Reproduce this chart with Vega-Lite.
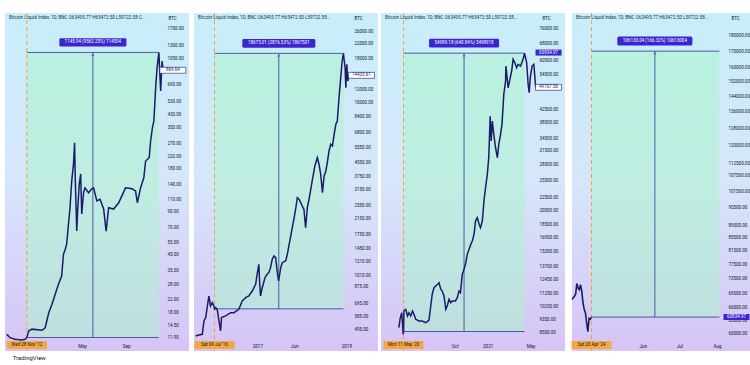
{
  "$schema": "https://vega.github.io/schema/vega-lite/v6.json",
  "background": "white",
  "padding": {"left": 3, "top": 12, "right": 0, "bottom": 2},
  "spacing": 3,
  "title": {"text": "TradingView", "orient": "bottom", "anchor": "start", "fontSize": 6, "fontWeight": "normal", "color": "#131722", "offset": 3, "dx": 9},
  "config": {"font": "Roboto", "view": {"stroke": null}},
  "hconcat": [
    {
      "width": 184, "height": 338,
      "view": {"stroke": null, "fill": {"gradient": "linear", "x1": 0, "y1": 0, "x2": 0, "y2": 1, "stops": [{"offset": 0, "color": "#c8eefb"}, {"offset": 0.5, "color": "#d6e6fb"}, {"offset": 1, "color": "#d6c4f6"}]}},
      "title": {"text": "Bitcoin Liquid Index, 1D, BNC  O63495.77 H65472.50 L59722.58 C...", "anchor": "start", "frame": "group", "orient": "top", "offset": -7, "dx": 4, "fontSize": 4.6, "fontWeight": "normal", "color": "#2a2e39"},
      "layer": [
        {
          "data": {"values": [{"start": "2012-11-28", "end": "2013-12-01", "mid": "2013-05-31", "low": 11.98, "high": 1157.9, "label": "1145.94 (9562.25%) 114594", "hlabel": "Wed 28 Nov '12"}]},
          "mark": {"type": "rect", "fill": "#a8f5c8", "opacity": 0.5},
          "encoding": {
            "x": {"field": "start", "type": "temporal", "scale": {"type": "utc", "domain": [{"year": 2012, "month": 9, "date": 28, "utc": true}, {"year": 2014, "month": 2, "date": 23, "utc": true}]},
              "axis": {"orient": "bottom", "title": null, "values": [{"year": 2013, "month": 5, "date": 1, "utc": true}, {"year": 2013, "month": 9, "date": 1, "utc": true}], "labelExpr": "utcFormat(datum.value, utcmonth(datum.value) == 0 ? '%Y' : '%b')", "labelPadding": -5, "labelBaseline": "middle", "ticks": false, "domain": false, "grid": false, "labelFontSize": 4.6, "labelColor": "#131722", "labelFlush": false, "labelOverlap": false}},
            "x2": {"field": "end"},
            "y": {"field": "low", "type": "quantitative", "scale": {"type": "log", "domain": [9.65, 2179], "nice": false},
              "axis": {"orient": "right", "title": "BTC", "titleAngle": 0, "titleAlign": "left", "titleBaseline": "middle", "titleX": -21, "titleY": 5.5, "titleFontSize": 4.5, "titleFontWeight": "normal", "titleColor": "#131722", "values": [1700, 1300, 1050, 690, 530, 430, 350, 270, 220, 180, 140, 110, 90, 70, 55, 45, 35, 28, 22, 18, 14.5, 11.9], "format": ".2f", "labelAlign": "left", "labelBaseline": "middle", "labelPadding": -22, "ticks": false, "domain": false, "grid": false, "labelFontSize": 4.5, "labelColor": "#131722", "labelOverlap": false, "labelBound": false, "labelFlush": false}},
            "y2": {"field": "high"}
          }
        },
        {
          "data": {"values": [{"start": "2012-11-28", "end": "2013-12-01", "mid": "2013-05-31", "low": 11.98, "high": 1157.9}]},
          "layer": [
            {"mark": {"type": "rule", "color": "#4a5aab", "strokeWidth": 1}, "encoding": {"x": {"field": "start", "type": "temporal"}, "x2": {"field": "end"}, "y": {"field": "high", "type": "quantitative"}}},
            {"mark": {"type": "rule", "color": "#4a5aab", "strokeWidth": 1}, "encoding": {"x": {"field": "start", "type": "temporal"}, "x2": {"field": "end"}, "y": {"field": "low", "type": "quantitative"}}},
            {"mark": {"type": "rule", "color": "#4a5aab", "strokeWidth": 1}, "encoding": {"x": {"field": "mid", "type": "temporal"}, "y": {"field": "low", "type": "quantitative"}, "y2": {"field": "high"}}},
            {"mark": {"type": "point", "shape": "triangle-up", "filled": true, "size": 8, "color": "#4a5aab", "opacity": 1, "yOffset": 2}, "encoding": {"x": {"field": "mid", "type": "temporal"}, "y": {"field": "high", "type": "quantitative"}}},
            {"mark": {"type": "rule", "color": "#f2a23a", "strokeWidth": 1, "strokeDash": [4, 3]}, "encoding": {"x": {"field": "start", "type": "temporal"}}}
          ]
        },
        {
          "data": {"values": [
            {"d": "2012-10-03", "p": 12.6}, {"d": "2012-10-12", "p": 11.95}, {"d": "2012-10-26", "p": 11.65}, {"d": "2012-11-14", "p": 11.5}, {"d": "2012-11-23", "p": 11.65}, {"d": "2012-11-28", "p": 12.0},
            {"d": "2012-12-03", "p": 13.3}, {"d": "2012-12-12", "p": 13.7}, {"d": "2013-01-09", "p": 13.45}, {"d": "2013-01-18", "p": 14.0}, {"d": "2013-01-28", "p": 17.8}, {"d": "2013-02-06", "p": 20.4},
            {"d": "2013-02-15", "p": 24.0}, {"d": "2013-02-24", "p": 28.1}, {"d": "2013-03-05", "p": 32.1}, {"d": "2013-03-10", "p": 45.5}, {"d": "2013-03-15", "p": 49.3}, {"d": "2013-03-19", "p": 53.7},
            {"d": "2013-03-24", "p": 74}, {"d": "2013-03-28", "p": 94}, {"d": "2013-04-02", "p": 147}, {"d": "2013-04-07", "p": 194}, {"d": "2013-04-10", "p": 272}, {"d": "2013-04-12", "p": 150},
            {"d": "2013-04-16", "p": 66}, {"d": "2013-04-19", "p": 95.6}, {"d": "2013-04-23", "p": 140}, {"d": "2013-04-27", "p": 165}, {"d": "2013-04-30", "p": 86.8}, {"d": "2013-05-05", "p": 122},
            {"d": "2013-05-09", "p": 132}, {"d": "2013-05-19", "p": 122}, {"d": "2013-05-28", "p": 130}, {"d": "2013-06-02", "p": 132}, {"d": "2013-06-11", "p": 107}, {"d": "2013-06-20", "p": 110},
            {"d": "2013-06-30", "p": 94}, {"d": "2013-07-07", "p": 66}, {"d": "2013-07-14", "p": 96}, {"d": "2013-07-28", "p": 94}, {"d": "2013-08-11", "p": 104}, {"d": "2013-08-30", "p": 132},
            {"d": "2013-09-17", "p": 130}, {"d": "2013-09-27", "p": 125.6}, {"d": "2013-10-02", "p": 104}, {"d": "2013-10-11", "p": 132}, {"d": "2013-10-20", "p": 155}, {"d": "2013-10-25", "p": 203},
            {"d": "2013-11-04", "p": 214}, {"d": "2013-11-08", "p": 280}, {"d": "2013-11-13", "p": 346}, {"d": "2013-11-17", "p": 386}, {"d": "2013-11-22", "p": 658}, {"d": "2013-11-26", "p": 907},
            {"d": "2013-12-01", "p": 1157.9}, {"d": "2013-12-06", "p": 624}, {"d": "2013-12-10", "p": 1009}, {"d": "2013-12-13", "p": 869.64}
          ]},
          "mark": {"type": "line", "color": "#1c1a6b", "strokeWidth": 1.5},
          "encoding": {"x": {"field": "d", "type": "temporal"}, "y": {"field": "p", "type": "quantitative"}}
        },
        {
          "data": {"values": [{"mid": "2013-05-31", "high": 1157.9, "label": "1145.94 (9562.25%) 114594"}]},
          "layer": [
            {"mark": {"type": "point", "shape": "M-0.96,-0.125H0.96Q1,-0.125 1,-0.085V0.085Q1,0.125 0.96,0.125H-0.96Q-1,0.125 -1,0.085V-0.085Q-1,-0.125 -0.96,-0.125Z", "size": 4489, "filled": true, "color": "#3b25d1", "opacity": 1, "yOffset": -10}, "encoding": {"x": {"field": "mid", "type": "temporal"}, "y": {"field": "high", "type": "quantitative"}}},
            {"mark": {"type": "text", "color": "white", "fontSize": 4.5, "baseline": "middle", "align": "center", "yOffset": -10}, "encoding": {"x": {"field": "mid", "type": "temporal"}, "y": {"field": "high", "type": "quantitative"}, "text": {"field": "label"}}}
          ]
        },
        {
          "data": {"values": [{"start": "2012-11-28", "hlabel": "Wed 28 Nov '12"}]},
          "layer": [
            {"mark": {"type": "point", "shape": "M-1,-0.2H1V0.2H-1Z", "size": 1600, "filled": true, "color": "#f5a742", "opacity": 1}, "encoding": {"x": {"field": "start", "type": "temporal"}, "y": {"datum": 10.63, "type": "quantitative"}}},
            {"mark": {"type": "text", "color": "#131722", "fontSize": 4.5, "baseline": "middle", "align": "center"}, "encoding": {"x": {"field": "start", "type": "temporal"}, "y": {"datum": 10.63, "type": "quantitative"}, "text": {"field": "hlabel"}}}
          ]
        },
        {
          "data": {"values": [{"p": 869.64, "t": "869.64"}]},
          "layer": [
            {"mark": {"type": "point", "shape": "M-1,-0.23H1V0.23H-1Z", "size": 676, "filled": true, "fill": "white", "stroke": "#1c1a6b", "strokeWidth": 0.6, "opacity": 1}, "encoding": {"x": {"datum": {"year": 2014, "month": 1, "date": 9, "utc": true}, "type": "temporal"}, "y": {"field": "p", "type": "quantitative"}}},
            {"mark": {"type": "text", "color": "#1c1a6b", "fontSize": 4.5, "baseline": "middle", "align": "center"}, "encoding": {"x": {"datum": {"year": 2014, "month": 1, "date": 9, "utc": true}, "type": "temporal"}, "y": {"field": "p", "type": "quantitative"}, "text": {"field": "t"}}}
          ]
        }
      ]
    },
    {
      "width": 184, "height": 338,
      "view": {"stroke": null, "fill": {"gradient": "linear", "x1": 0, "y1": 0, "x2": 0, "y2": 1, "stops": [{"offset": 0, "color": "#c8eefb"}, {"offset": 0.5, "color": "#d6e6fb"}, {"offset": 1, "color": "#d6c4f6"}]}},
      "title": {"text": "Bitcoin Liquid Index, 1D, BNC  O63495.77 H65472.50 L59722.58...", "anchor": "start", "frame": "group", "orient": "top", "offset": -7, "dx": 4, "fontSize": 4.6, "fontWeight": "normal", "color": "#2a2e39"},
      "layer": [
        {
          "data": {"values": [{"start": "2016-07-09", "end": "2017-12-20", "low": 649.2, "high": 19324}]},
          "mark": {"type": "rect", "fill": "#a8f5c8", "opacity": 0.5},
          "encoding": {
            "x": {"field": "start", "type": "temporal", "scale": {"type": "utc", "domain": [{"year": 2016, "month": 4, "date": 16, "utc": true}, {"year": 2018, "month": 5, "date": 11, "utc": true}]},
              "axis": {"orient": "bottom", "title": null, "values": [{"year": 2017, "month": 1, "date": 1, "utc": true}, {"year": 2017, "month": 6, "date": 1, "utc": true}, {"year": 2018, "month": 1, "date": 1, "utc": true}], "labelExpr": "utcFormat(datum.value, utcmonth(datum.value) == 0 ? '%Y' : '%b')", "labelPadding": -5, "labelBaseline": "middle", "ticks": false, "domain": false, "grid": false, "labelFontSize": 4.6, "labelColor": "#131722", "labelFlush": false, "labelOverlap": false}},
            "x2": {"field": "end"},
            "y": {"field": "low", "type": "quantitative", "scale": {"type": "log", "domain": [371, 33030], "nice": false},
              "axis": {"orient": "right", "title": "BTC", "titleAngle": 0, "titleAlign": "left", "titleBaseline": "middle", "titleX": -24, "titleY": 5.5, "titleFontSize": 4.5, "titleFontWeight": "normal", "titleColor": "#131722", "values": [26000, 22000, 18000, 12000, 10000, 8400, 6800, 5550, 4550, 3750, 3150, 2550, 2150, 1750, 1450, 1210, 1010, 875, 695, 585, 495], "format": ".2f", "labelAlign": "left", "labelBaseline": "middle", "labelPadding": -24, "ticks": false, "domain": false, "grid": false, "labelFontSize": 4.5, "labelColor": "#131722", "labelOverlap": false, "labelBound": false, "labelFlush": false}},
            "y2": {"field": "high"}
          }
        },
        {
          "data": {"values": [{"start": "2016-07-09", "end": "2017-12-20", "mid": "2017-03-30", "low": 649.2, "high": 19324}]},
          "layer": [
            {"mark": {"type": "rule", "color": "#4a5aab", "strokeWidth": 1}, "encoding": {"x": {"field": "start", "type": "temporal"}, "x2": {"field": "end"}, "y": {"field": "high", "type": "quantitative"}}},
            {"mark": {"type": "rule", "color": "#4a5aab", "strokeWidth": 1}, "encoding": {"x": {"field": "start", "type": "temporal"}, "x2": {"field": "end"}, "y": {"field": "low", "type": "quantitative"}}},
            {"mark": {"type": "rule", "color": "#4a5aab", "strokeWidth": 1}, "encoding": {"x": {"field": "mid", "type": "temporal"}, "y": {"field": "low", "type": "quantitative"}, "y2": {"field": "high"}}},
            {"mark": {"type": "point", "shape": "triangle-up", "filled": true, "size": 8, "color": "#4a5aab", "opacity": 1, "yOffset": 2}, "encoding": {"x": {"field": "mid", "type": "temporal"}, "y": {"field": "high", "type": "quantitative"}}},
            {"mark": {"type": "rule", "color": "#f2a23a", "strokeWidth": 1, "strokeDash": [4, 3]}, "encoding": {"x": {"field": "start", "type": "temporal"}}}
          ]
        },
        {
          "data": {"values": [
            {"d": "2016-04-23", "p": 453}, {"d": "2016-05-06", "p": 459}, {"d": "2016-05-20", "p": 463}, {"d": "2016-05-27", "p": 553}, {"d": "2016-06-03", "p": 578}, {"d": "2016-06-09", "p": 660},
            {"d": "2016-06-16", "p": 770}, {"d": "2016-06-23", "p": 675}, {"d": "2016-06-30", "p": 705}, {"d": "2016-07-07", "p": 675}, {"d": "2016-07-09", "p": 649.2}, {"d": "2016-07-14", "p": 660},
            {"d": "2016-07-20", "p": 646}, {"d": "2016-08-03", "p": 484}, {"d": "2016-08-07", "p": 578}, {"d": "2016-08-24", "p": 591}, {"d": "2016-09-13", "p": 617}, {"d": "2016-09-27", "p": 617},
            {"d": "2016-10-17", "p": 646}, {"d": "2016-10-31", "p": 721}, {"d": "2016-11-14", "p": 753}, {"d": "2016-11-27", "p": 770}, {"d": "2016-12-11", "p": 823}, {"d": "2016-12-25", "p": 900},
            {"d": "2016-12-31", "p": 1028}, {"d": "2017-01-07", "p": 1174}, {"d": "2017-01-10", "p": 940}, {"d": "2017-01-14", "p": 770}, {"d": "2017-01-21", "p": 860}, {"d": "2017-02-01", "p": 982},
            {"d": "2017-02-10", "p": 1028}, {"d": "2017-02-17", "p": 1050}, {"d": "2017-02-24", "p": 1122}, {"d": "2017-03-03", "p": 1254}, {"d": "2017-03-10", "p": 1310}, {"d": "2017-03-17", "p": 1281},
            {"d": "2017-03-24", "p": 1050}, {"d": "2017-03-29", "p": 940}, {"d": "2017-04-07", "p": 1122}, {"d": "2017-04-13", "p": 1199}, {"d": "2017-04-27", "p": 1226}, {"d": "2017-05-04", "p": 1340},
            {"d": "2017-05-11", "p": 1517}, {"d": "2017-05-18", "p": 1709}, {"d": "2017-06-01", "p": 2179}, {"d": "2017-06-08", "p": 2489}, {"d": "2017-06-14", "p": 2842}, {"d": "2017-06-21", "p": 2783},
            {"d": "2017-06-28", "p": 2660}, {"d": "2017-07-04", "p": 2546}, {"d": "2017-07-11", "p": 2436}, {"d": "2017-07-18", "p": 1908}, {"d": "2017-07-25", "p": 2489}, {"d": "2017-08-01", "p": 2783},
            {"d": "2017-08-14", "p": 3548}, {"d": "2017-08-25", "p": 4330}, {"d": "2017-09-04", "p": 4835}, {"d": "2017-09-11", "p": 4430}, {"d": "2017-09-18", "p": 3878}, {"d": "2017-09-25", "p": 3037},
            {"d": "2017-10-02", "p": 3792}, {"d": "2017-10-09", "p": 4052}, {"d": "2017-10-15", "p": 4523}, {"d": "2017-10-22", "p": 5284}, {"d": "2017-10-29", "p": 5776}, {"d": "2017-11-05", "p": 5647},
            {"d": "2017-11-12", "p": 6597}, {"d": "2017-11-19", "p": 7531}, {"d": "2017-11-25", "p": 7870}, {"d": "2017-12-02", "p": 10722}, {"d": "2017-12-09", "p": 13990}, {"d": "2017-12-15", "p": 17460},
            {"d": "2017-12-20", "p": 19324}, {"d": "2017-12-27", "p": 15970}, {"d": "2017-12-30", "p": 12240}, {"d": "2018-01-03", "p": 16710}, {"d": "2018-01-07", "p": 13390}, {"d": "2018-01-12", "p": 14433.61}
          ]},
          "mark": {"type": "line", "color": "#1c1a6b", "strokeWidth": 1.5},
          "encoding": {"x": {"field": "d", "type": "temporal"}, "y": {"field": "p", "type": "quantitative"}}
        },
        {
          "data": {"values": [{"mid": "2017-03-30", "high": 19324, "label": "18675.01 (2876.53%) 1867501"}]},
          "layer": [
            {"mark": {"type": "point", "shape": "M-0.96,-0.12H0.96Q1,-0.12 1,-0.08V0.08Q1,0.12 0.96,0.12H-0.96Q-1,0.12 -1,0.08V-0.08Q-1,-0.12 -0.96,-0.12Z", "size": 5329, "filled": true, "color": "#3b25d1", "opacity": 1, "yOffset": -10}, "encoding": {"x": {"field": "mid", "type": "temporal"}, "y": {"field": "high", "type": "quantitative"}}},
            {"mark": {"type": "text", "color": "white", "fontSize": 4.5, "baseline": "middle", "align": "center", "yOffset": -10}, "encoding": {"x": {"field": "mid", "type": "temporal"}, "y": {"field": "high", "type": "quantitative"}, "text": {"field": "label"}}}
          ]
        },
        {
          "data": {"values": [{"start": "2016-07-09", "hlabel": "Sat 09 Jul '16"}]},
          "layer": [
            {"mark": {"type": "point", "shape": "M-1,-0.2H1V0.2H-1Z", "size": 1600, "filled": true, "color": "#f5a742", "opacity": 1}, "encoding": {"x": {"field": "start", "type": "temporal"}, "y": {"datum": 402, "type": "quantitative"}}},
            {"mark": {"type": "text", "color": "#131722", "fontSize": 4.5, "baseline": "middle", "align": "center"}, "encoding": {"x": {"field": "start", "type": "temporal"}, "y": {"datum": 402, "type": "quantitative"}, "text": {"field": "hlabel"}}}
          ]
        },
        {
          "data": {"values": [{"p": 14433.61, "t": "14433.61"}]},
          "layer": [
            {"mark": {"type": "point", "shape": "M-1,-0.23H1V0.23H-1Z", "size": 676, "filled": true, "fill": "white", "stroke": "#1c1a6b", "strokeWidth": 0.6, "opacity": 1}, "encoding": {"x": {"datum": {"year": 2018, "month": 3, "date": 4, "utc": true}, "type": "temporal"}, "y": {"field": "p", "type": "quantitative"}}},
            {"mark": {"type": "text", "color": "#1c1a6b", "fontSize": 4.5, "baseline": "middle", "align": "center"}, "encoding": {"x": {"datum": {"year": 2018, "month": 3, "date": 4, "utc": true}, "type": "temporal"}, "y": {"field": "p", "type": "quantitative"}, "text": {"field": "t"}}}
          ]
        }
      ]
    },
    {
      "width": 184, "height": 338,
      "view": {"stroke": null, "fill": {"gradient": "linear", "x1": 0, "y1": 0, "x2": 0, "y2": 1, "stops": [{"offset": 0, "color": "#c8eefb"}, {"offset": 0.5, "color": "#d6e6fb"}, {"offset": 1, "color": "#d6c4f6"}]}},
      "title": {"text": "Bitcoin Liquid Index, 1D, BNC  O63495.77 H65472.50 L59722.58...", "anchor": "start", "frame": "group", "orient": "top", "offset": -7, "dx": 4, "fontSize": 4.6, "fontWeight": "normal", "color": "#2a2e39"},
      "layer": [
        {
          "data": {"values": [{"start": "2020-05-11", "end": "2021-04-14", "low": 8581, "high": 63570}]},
          "mark": {"type": "rect", "fill": "#a8f5c8", "opacity": 0.5},
          "encoding": {
            "x": {"field": "start", "type": "temporal", "scale": {"type": "utc", "domain": [{"year": 2020, "month": 3, "date": 9, "utc": true}, {"year": 2021, "month": 8, "date": 5, "utc": true}]},
              "axis": {"orient": "bottom", "title": null, "values": [{"year": 2020, "month": 10, "date": 1, "utc": true}, {"year": 2021, "month": 1, "date": 1, "utc": true}, {"year": 2021, "month": 5, "date": 1, "utc": true}], "labelExpr": "utcFormat(datum.value, utcmonth(datum.value) == 0 ? '%Y' : '%b')", "labelPadding": -5, "labelBaseline": "middle", "ticks": false, "domain": false, "grid": false, "labelFontSize": 4.6, "labelColor": "#131722", "labelFlush": false, "labelOverlap": false}},
            "x2": {"field": "end"},
            "y": {"field": "low", "type": "quantitative", "scale": {"type": "log", "domain": [7459, 84860], "nice": false},
              "axis": {"orient": "right", "title": "BTC", "titleAngle": 0, "titleAlign": "left", "titleBaseline": "middle", "titleX": -23, "titleY": 5.5, "titleFontSize": 4.5, "titleFontWeight": "normal", "titleColor": "#131722", "values": [76000, 68000, 60500, 54500, 42500, 38500, 34500, 31500, 28500, 25500, 22500, 20500, 18500, 16900, 15300, 13700, 12450, 11250, 10250, 9350, 8550], "format": ".2f", "labelAlign": "left", "labelBaseline": "middle", "labelPadding": -26, "ticks": false, "domain": false, "grid": false, "labelFontSize": 4.5, "labelColor": "#131722", "labelOverlap": false, "labelBound": false, "labelFlush": false}},
            "y2": {"field": "high"}
          }
        },
        {
          "data": {"values": [{"start": "2020-05-11", "end": "2021-04-14", "mid": "2020-10-27", "low": 8581, "high": 63570}]},
          "layer": [
            {"mark": {"type": "rule", "color": "#4a5aab", "strokeWidth": 1}, "encoding": {"x": {"field": "start", "type": "temporal"}, "x2": {"field": "end"}, "y": {"field": "high", "type": "quantitative"}}},
            {"mark": {"type": "rule", "color": "#4a5aab", "strokeWidth": 1}, "encoding": {"x": {"field": "start", "type": "temporal"}, "x2": {"field": "end"}, "y": {"field": "low", "type": "quantitative"}}},
            {"mark": {"type": "rule", "color": "#4a5aab", "strokeWidth": 1}, "encoding": {"x": {"field": "mid", "type": "temporal"}, "y": {"field": "low", "type": "quantitative"}, "y2": {"field": "high"}}},
            {"mark": {"type": "point", "shape": "triangle-up", "filled": true, "size": 8, "color": "#4a5aab", "opacity": 1, "yOffset": 2}, "encoding": {"x": {"field": "mid", "type": "temporal"}, "y": {"field": "high", "type": "quantitative"}}},
            {"mark": {"type": "rule", "color": "#f2a23a", "strokeWidth": 1, "strokeDash": [4, 3]}, "encoding": {"x": {"field": "start", "type": "temporal"}}}
          ]
        },
        {
          "data": {"values": [
            {"d": "2020-04-28", "p": 8820}, {"d": "2020-05-01", "p": 9370}, {"d": "2020-05-06", "p": 9823}, {"d": "2020-05-10", "p": 8400}, {"d": "2020-05-11", "p": 8581}, {"d": "2020-05-12", "p": 9945},
            {"d": "2020-05-17", "p": 10067}, {"d": "2020-05-22", "p": 9594}, {"d": "2020-05-26", "p": 9823}, {"d": "2020-05-31", "p": 9594}, {"d": "2020-06-05", "p": 9945}, {"d": "2020-06-09", "p": 9712},
            {"d": "2020-06-14", "p": 9370}, {"d": "2020-06-23", "p": 9256}, {"d": "2020-07-02", "p": 9256}, {"d": "2020-07-12", "p": 9145}, {"d": "2020-07-21", "p": 9303}, {"d": "2020-07-26", "p": 10311},
            {"d": "2020-07-30", "p": 11216}, {"d": "2020-08-04", "p": 11762}, {"d": "2020-08-09", "p": 11906}, {"d": "2020-08-14", "p": 12050}, {"d": "2020-08-18", "p": 12190}, {"d": "2020-08-23", "p": 11630},
            {"d": "2020-08-27", "p": 11480}, {"d": "2020-09-01", "p": 11080}, {"d": "2020-09-06", "p": 10067}, {"d": "2020-09-10", "p": 10311}, {"d": "2020-09-15", "p": 10820}, {"d": "2020-09-20", "p": 10560},
            {"d": "2020-09-24", "p": 10690}, {"d": "2020-10-03", "p": 10690}, {"d": "2020-10-08", "p": 10945}, {"d": "2020-10-13", "p": 11480}, {"d": "2020-10-17", "p": 11340}, {"d": "2020-10-22", "p": 12950},
            {"d": "2020-10-27", "p": 13430}, {"d": "2020-11-01", "p": 14080}, {"d": "2020-11-05", "p": 14950}, {"d": "2020-11-10", "p": 15500}, {"d": "2020-11-15", "p": 16070}, {"d": "2020-11-19", "p": 16460},
            {"d": "2020-11-24", "p": 17270}, {"d": "2020-11-28", "p": 19000}, {"d": "2020-12-03", "p": 19460}, {"d": "2020-12-08", "p": 18560}, {"d": "2020-12-12", "p": 18110}, {"d": "2020-12-17", "p": 19000},
            {"d": "2020-12-22", "p": 22210}, {"d": "2020-12-26", "p": 24140}, {"d": "2020-12-31", "p": 26590}, {"d": "2021-01-04", "p": 29970}, {"d": "2021-01-08", "p": 40400}, {"d": "2021-01-11", "p": 33790},
            {"d": "2021-01-14", "p": 39010}, {"d": "2021-01-17", "p": 36310}, {"d": "2021-01-23", "p": 32190}, {"d": "2021-01-28", "p": 29970}, {"d": "2021-02-01", "p": 32990}, {"d": "2021-02-06", "p": 35440},
            {"d": "2021-02-10", "p": 38100}, {"d": "2021-02-15", "p": 47270}, {"d": "2021-02-20", "p": 52030}, {"d": "2021-02-21", "p": 57940}, {"d": "2021-02-27", "p": 49570}, {"d": "2021-03-04", "p": 52670},
            {"d": "2021-03-09", "p": 55900}, {"d": "2021-03-13", "p": 60810}, {"d": "2021-03-18", "p": 59330}, {"d": "2021-03-23", "p": 57240}, {"d": "2021-03-27", "p": 58660}, {"d": "2021-04-03", "p": 57940},
            {"d": "2021-04-08", "p": 60060}, {"d": "2021-04-11", "p": 61530}, {"d": "2021-04-14", "p": 63570}, {"d": "2021-04-20", "p": 59330}, {"d": "2021-04-24", "p": 50800}, {"d": "2021-04-27", "p": 47820},
            {"d": "2021-04-30", "p": 53280}, {"d": "2021-05-05", "p": 57940}, {"d": "2021-05-10", "p": 58660}, {"d": "2021-05-13", "p": 53280}, {"d": "2021-05-15", "p": 49707.56}
          ]},
          "mark": {"type": "line", "color": "#1c1a6b", "strokeWidth": 1.5},
          "encoding": {"x": {"field": "d", "type": "temporal"}, "y": {"field": "p", "type": "quantitative"}}
        },
        {
          "data": {"values": [{"mid": "2020-10-27", "high": 63570, "label": "54989.18 (640.84%) 5498918"}]},
          "layer": [
            {"mark": {"type": "point", "shape": "M-0.96,-0.125H0.96Q1,-0.125 1,-0.085V0.085Q1,0.125 0.96,0.125H-0.96Q-1,0.125 -1,0.085V-0.085Q-1,-0.125 -0.96,-0.125Z", "size": 4900, "filled": true, "color": "#3b25d1", "opacity": 1, "yOffset": -10}, "encoding": {"x": {"field": "mid", "type": "temporal"}, "y": {"field": "high", "type": "quantitative"}}},
            {"mark": {"type": "text", "color": "white", "fontSize": 4.5, "baseline": "middle", "align": "center", "yOffset": -10}, "encoding": {"x": {"field": "mid", "type": "temporal"}, "y": {"field": "high", "type": "quantitative"}, "text": {"field": "label"}}}
          ]
        },
        {
          "data": {"values": [{"start": "2020-05-11", "hlabel": "Mon 11 May '20"}]},
          "layer": [
            {"mark": {"type": "point", "shape": "M-1,-0.2H1V0.2H-1Z", "size": 1600, "filled": true, "color": "#f5a742", "opacity": 1}, "encoding": {"x": {"field": "start", "type": "temporal"}, "y": {"datum": 7788, "type": "quantitative"}}},
            {"mark": {"type": "text", "color": "#131722", "fontSize": 4.5, "baseline": "middle", "align": "center"}, "encoding": {"x": {"field": "start", "type": "temporal"}, "y": {"datum": 7788, "type": "quantitative"}, "text": {"field": "hlabel"}}}
          ]
        },
        {
          "data": {"values": [{"p": 63834.97, "t": "63834.97"}]},
          "layer": [
            {"mark": {"type": "point", "shape": "M-1,-0.23H1V0.23H-1Z", "size": 676, "filled": true, "color": "#3b25d1", "opacity": 1}, "encoding": {"x": {"datum": {"year": 2021, "month": 6, "date": 20, "utc": true}, "type": "temporal"}, "y": {"field": "p", "type": "quantitative"}}},
            {"mark": {"type": "text", "color": "white", "fontSize": 4.5, "baseline": "middle", "align": "center"}, "encoding": {"x": {"datum": {"year": 2021, "month": 6, "date": 20, "utc": true}, "type": "temporal"}, "y": {"field": "p", "type": "quantitative"}, "text": {"field": "t"}}}
          ]
        },
        {
          "data": {"values": [{"p": 49707.56, "t": "49707.56"}]},
          "layer": [
            {"mark": {"type": "point", "shape": "M-1,-0.23H1V0.23H-1Z", "size": 676, "filled": true, "fill": "white", "stroke": "#1c1a6b", "strokeWidth": 0.6, "opacity": 1}, "encoding": {"x": {"datum": {"year": 2021, "month": 6, "date": 20, "utc": true}, "type": "temporal"}, "y": {"field": "p", "type": "quantitative"}}},
            {"mark": {"type": "text", "color": "#1c1a6b", "fontSize": 4.5, "baseline": "middle", "align": "center"}, "encoding": {"x": {"datum": {"year": 2021, "month": 6, "date": 20, "utc": true}, "type": "temporal"}, "y": {"field": "p", "type": "quantitative"}, "text": {"field": "t"}}}
          ]
        }
      ]
    },
    {
      "width": 184, "height": 338,
      "view": {"stroke": null, "fill": {"gradient": "linear", "x1": 0, "y1": 0, "x2": 0, "y2": 1, "stops": [{"offset": 0, "color": "#c8eefb"}, {"offset": 0.5, "color": "#d6e6fb"}, {"offset": 1, "color": "#d6c4f6"}]}},
      "title": {"text": "Bitcoin Liquid Index, 1D, BNC  O63495.77 H65472.50 L59722.58...", "anchor": "start", "frame": "group", "orient": "top", "offset": -7, "dx": 4, "fontSize": 4.6, "fontWeight": "normal", "color": "#2a2e39"},
      "layer": [
        {
          "data": {"values": [{"start": "2024-04-20", "end": "2024-08-03", "low": 63811, "high": 169941}]},
          "mark": {"type": "rect", "fill": "#a8f5c8", "opacity": 0.5},
          "encoding": {
            "x": {"field": "start", "type": "temporal", "scale": {"type": "utc", "domain": [{"year": 2024, "month": 4, "date": 4, "utc": true}, {"year": 2024, "month": 9, "date": 2, "utc": true}]},
              "axis": {"orient": "bottom", "title": null, "values": [{"year": 2024, "month": 6, "date": 1, "utc": true}, {"year": 2024, "month": 7, "date": 1, "utc": true}, {"year": 2024, "month": 8, "date": 1, "utc": true}], "labelExpr": "utcFormat(datum.value, utcmonth(datum.value) == 0 ? '%Y' : '%b')", "labelPadding": -5, "labelBaseline": "middle", "ticks": false, "domain": false, "grid": false, "labelFontSize": 4.6, "labelColor": "#131722", "labelFlush": false, "labelOverlap": false}},
            "x2": {"field": "end"},
            "y": {"field": "low", "type": "quantitative", "scale": {"type": "log", "domain": [56320, 195550], "nice": false},
              "axis": {"orient": "right", "title": "BTC", "titleAngle": 0, "titleAlign": "left", "titleBaseline": "middle", "titleX": -25, "titleY": 5.5, "titleFontSize": 4.5, "titleFontWeight": "normal", "titleColor": "#131722", "values": [180000, 170000, 160000, 152000, 144000, 136000, 128000, 120000, 112500, 107500, 101500, 95500, 89500, 85500, 81500, 77500, 73500, 69500, 66000, 63000, 60000], "format": ".2f", "labelAlign": "left", "labelBaseline": "middle", "labelPadding": -28, "ticks": false, "domain": false, "grid": false, "labelFontSize": 4.5, "labelColor": "#131722", "labelOverlap": false, "labelBound": false, "labelFlush": false}},
            "y2": {"field": "high"}
          }
        },
        {
          "data": {"values": [{"start": "2024-04-20", "end": "2024-08-03", "mid": "2024-06-11", "low": 63811, "high": 169941}]},
          "layer": [
            {"mark": {"type": "rule", "color": "#4a5aab", "strokeWidth": 1}, "encoding": {"x": {"field": "start", "type": "temporal"}, "x2": {"field": "end"}, "y": {"field": "high", "type": "quantitative"}}},
            {"mark": {"type": "rule", "color": "#4a5aab", "strokeWidth": 1}, "encoding": {"x": {"field": "start", "type": "temporal"}, "x2": {"field": "end"}, "y": {"field": "low", "type": "quantitative"}}},
            {"mark": {"type": "rule", "color": "#4a5aab", "strokeWidth": 1}, "encoding": {"x": {"field": "mid", "type": "temporal"}, "y": {"field": "low", "type": "quantitative"}, "y2": {"field": "high"}}},
            {"mark": {"type": "point", "shape": "triangle-up", "filled": true, "size": 8, "color": "#4a5aab", "opacity": 1, "yOffset": 2}, "encoding": {"x": {"field": "mid", "type": "temporal"}, "y": {"field": "high", "type": "quantitative"}}},
            {"mark": {"type": "rule", "color": "#f2a23a", "strokeWidth": 1, "strokeDash": [4, 3]}, "encoding": {"x": {"field": "start", "type": "temporal"}}}
          ]
        },
        {
          "data": {"values": [
            {"d": "2024-04-04", "p": 68100}, {"d": "2024-04-05", "p": 68500}, {"d": "2024-04-06", "p": 68900}, {"d": "2024-04-07", "p": 69500}, {"d": "2024-04-08", "p": 72200}, {"d": "2024-04-09", "p": 71000},
            {"d": "2024-04-10", "p": 70600}, {"d": "2024-04-11", "p": 71900}, {"d": "2024-04-12", "p": 70230}, {"d": "2024-04-13", "p": 67270}, {"d": "2024-04-14", "p": 65670}, {"d": "2024-04-15", "p": 64840},
            {"d": "2024-04-16", "p": 62490}, {"d": "2024-04-17", "p": 60500}, {"d": "2024-04-18", "p": 63500}, {"d": "2024-04-19", "p": 63290}, {"d": "2024-04-20", "p": 63834.97}
          ]},
          "mark": {"type": "line", "color": "#1c1a6b", "strokeWidth": 1.6},
          "encoding": {"x": {"field": "d", "type": "temporal"}, "y": {"field": "p", "type": "quantitative"}}
        },
        {
          "data": {"values": [{"mid": "2024-06-11", "high": 169941, "label": "106130.04 (166.32%) 10613004"}]},
          "layer": [
            {"mark": {"type": "point", "shape": "M-0.96,-0.12H0.96Q1,-0.12 1,-0.08V0.08Q1,0.12 0.96,0.12H-0.96Q-1,0.12 -1,0.08V-0.08Q-1,-0.12 -0.96,-0.12Z", "size": 5625, "filled": true, "color": "#3b25d1", "opacity": 1, "yOffset": -10}, "encoding": {"x": {"field": "mid", "type": "temporal"}, "y": {"field": "high", "type": "quantitative"}}},
            {"mark": {"type": "text", "color": "white", "fontSize": 4.5, "baseline": "middle", "align": "center", "yOffset": -10}, "encoding": {"x": {"field": "mid", "type": "temporal"}, "y": {"field": "high", "type": "quantitative"}, "text": {"field": "label"}}}
          ]
        },
        {
          "data": {"values": [{"start": "2024-04-20", "hlabel": "Sat 20 Apr '24"}]},
          "layer": [
            {"mark": {"type": "point", "shape": "M-1,-0.2H1V0.2H-1Z", "size": 1600, "filled": true, "color": "#f5a742", "opacity": 1}, "encoding": {"x": {"field": "start", "type": "temporal"}, "y": {"datum": 57560, "type": "quantitative"}}},
            {"mark": {"type": "text", "color": "#131722", "fontSize": 4.5, "baseline": "middle", "align": "center"}, "encoding": {"x": {"field": "start", "type": "temporal"}, "y": {"datum": 57560, "type": "quantitative"}, "text": {"field": "hlabel"}}}
          ]
        },
        {
          "data": {"values": [{"p": 63834.97, "t": "63834.97"}]},
          "layer": [
            {"mark": {"type": "point", "shape": "M-1,-0.23H1V0.23H-1Z", "size": 676, "filled": true, "color": "#3b25d1", "opacity": 1}, "encoding": {"x": {"datum": {"year": 2024, "month": 8, "date": 17, "utc": true}, "type": "temporal"}, "y": {"field": "p", "type": "quantitative"}}},
            {"mark": {"type": "text", "color": "white", "fontSize": 4.5, "baseline": "middle", "align": "center"}, "encoding": {"x": {"datum": {"year": 2024, "month": 8, "date": 17, "utc": true}, "type": "temporal"}, "y": {"field": "p", "type": "quantitative"}, "text": {"field": "t"}}}
          ]
        }
      ]
    }
  ]
}
